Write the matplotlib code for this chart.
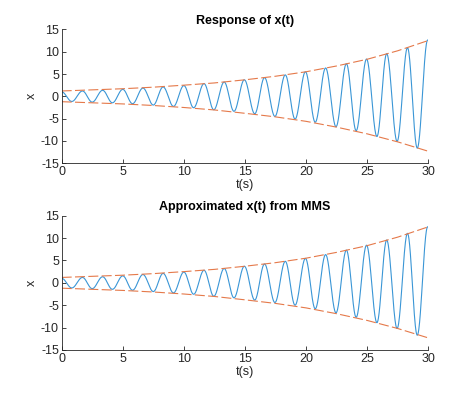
import numpy as np
import matplotlib
matplotlib.use("Agg")
import matplotlib.pyplot as plt

# --- Data ---

# extrema of the response (time, value), top subplot
resp_t = [0.0, 0.83, 1.7, 2.5, 3.35, 4.15, 5.0, 5.8, 6.65, 7.5, 8.3, 9.15,
          10.0, 10.8, 11.65, 12.45, 13.3, 14.1, 14.95, 15.8, 16.6, 17.45,
          18.3, 19.1, 19.95, 20.75, 21.6, 22.45, 23.3, 24.1, 24.95, 25.8,
          26.6, 27.45, 28.3, 29.1, 29.95]
resp_x = [1.0, -1.15, 1.2, -1.3, 1.35, -1.45, 1.55, -1.65, 1.85, -1.95,
          2.1, -2.25, 2.4, -2.55, 2.85, -3.0, 3.2, -3.35, 3.7, -3.9, 4.2,
          -4.5, 4.8, -5.1, 5.5, -5.8, 6.35, -6.8, 7.3, -7.7, 8.35, -9.0,
          9.55, -10.1, 10.9, -11.6, 12.6]

# extrema of the MMS approximation, bottom subplot
mms_t = resp_t
mms_x = [1.0, -1.15, 1.2, -1.3, 1.35, -1.45, 1.55, -1.65, 1.85, -1.95,
         2.1, -2.25, 2.4, -2.55, 2.8, -3.0, 3.2, -3.35, 3.7, -3.85, 4.2,
         -4.4, 4.8, -5.0, 5.45, -5.8, 6.3, -6.7, 7.3, -7.7, 8.4, -8.9,
         9.55, -10.2, 11.05, -11.7, 12.5]

# dashed envelope
env_t = [0, 2.5, 5, 7.5, 10, 12.5, 15, 17.5, 20, 22.5, 25, 27.5, 30]
env_upper = [1.2, 1.45, 1.7, 2.05, 2.5, 3.0, 3.7, 4.5, 5.5, 6.8, 8.3, 10.2, 12.5]
env_lower = [-1.2, -1.45, -1.7, -2.05, -2.5, -3.05, -3.8, -4.6, -5.6, -6.9,
             -8.4, -10.2, -12.3]

titles = ["Response of x(t)", "Approximated x(t) from MMS"]
xticks = [0, 5, 10, 15, 20, 25, 30]
yticks = [-15, -10, -5, 0, 5, 10, 15]

BLUE = "#3A96D6"
ORANGE = "#E5794A"
AXCOL = "#262626"

plt.rcParams["font.family"] = ["Liberation Sans", "DejaVu Sans"]
plt.rcParams["axes.unicode_minus"] = False


def smooth_through_extrema(t_ext, x_ext, n=40):
    """Join consecutive extrema with half-cosine arcs."""
    ts, xs = [], []
    for i in range(len(t_ext) - 1):
        s = np.linspace(0, 1, n, endpoint=False)
        w = (1 - np.cos(np.pi * s)) / 2
        ts.append(t_ext[i] + (t_ext[i + 1] - t_ext[i]) * s)
        xs.append(x_ext[i] + (x_ext[i + 1] - x_ext[i]) * w)
    ts.append([t_ext[-1]])
    xs.append([x_ext[-1]])
    return np.concatenate(ts), np.concatenate(xs)


fig = plt.figure(figsize=(4.73, 3.94), dpi=100)
positions = [[0.1304, 0.5855, 0.775, 0.340], [0.1304, 0.1117, 0.775, 0.341]]
series = [(resp_t, resp_x), (mms_t, mms_x)]

for pos, (te, xe), title in zip(positions, series, titles):
    ax = fig.add_axes(pos)
    t, x = smooth_through_extrema(te, xe)
    ax.plot(t, x, color=BLUE, lw=0.8)
    ax.plot(env_t, env_upper, color=ORANGE, lw=0.8, dashes=(9, 3))
    ax.plot(env_t, env_lower, color=ORANGE, lw=0.8, dashes=(9, 3))

    ax.set_xlim(0, 30)
    ax.set_ylim(-15, 15)
    ax.set_xticks(xticks)
    ax.set_yticks(yticks)
    ax.set_xlabel("t(s)", fontsize=9, color=AXCOL, labelpad=1)
    ax.set_ylabel("x", fontsize=9, color=AXCOL, labelpad=2)
    ax.set_title(title, fontsize=9, fontweight="bold", pad=4)

    ax.spines["top"].set_visible(False)
    ax.spines["right"].set_visible(False)
    for sp in ("left", "bottom"):
        ax.spines[sp].set_color(AXCOL)
        ax.spines[sp].set_linewidth(0.6)
    ax.tick_params(direction="in", length=3, width=0.6, colors=AXCOL,
                   labelsize=9, pad=2)

fig.savefig("out.png", dpi=100)
